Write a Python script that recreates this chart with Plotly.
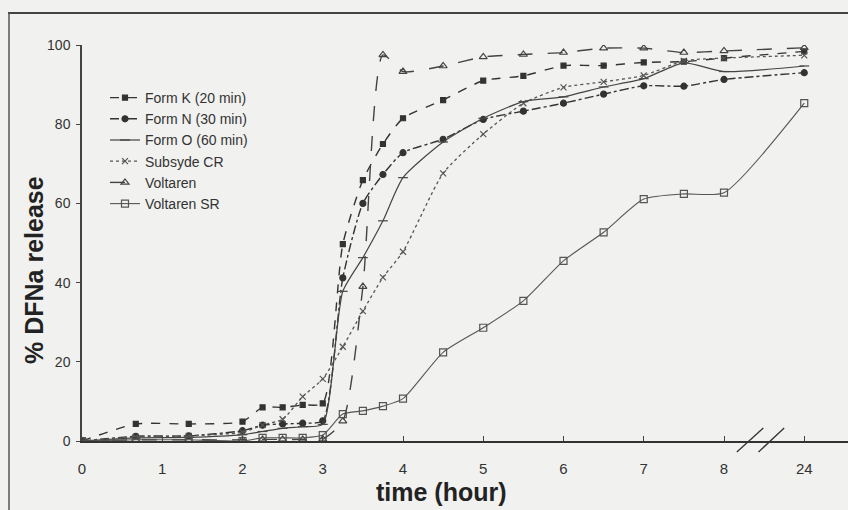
import plotly.graph_objects as go

# ---- data ----
time_h = [0, 0.67, 1.33, 2, 2.25, 2.5, 2.75, 3, 3.25, 3.5, 3.75, 4, 4.5, 5, 5.5, 6, 6.5, 7, 7.5, 8, 24]

form_k = [0, 4.3, 4.3, 4.9, 8.5, 8.5, 9.1, 9.5, 49.7, 65.9, 75.0, 81.5, 86.1, 91.0, 92.2, 94.8, 94.8, 95.6, 95.8, 96.7, 98.4]
form_n = [0, 1.2, 1.3, 2.6, 4.0, 4.3, 4.5, 5.1, 41.2, 60.0, 67.3, 72.8, 76.2, 81.2, 83.3, 85.3, 87.6, 89.7, 89.6, 91.3, 93.0]
form_o = [0, 0.8, 0.9, 1.6, 2.4, 3.2, 3.6, 4.2, 37.8, 46.3, 55.6, 66.5, 75.5, 81.5, 85.7, 86.9, 89.4, 91.5, 95.5, 93.3, 94.7]
subsyde = [0, 1.0, 1.3, 2.2, 4.0, 5.5, 11.2, 15.7, 23.8, 32.8, 41.3, 47.8, 67.6, 77.5, 85.3, 89.3, 90.7, 92.3, 96.0, 96.7, 97.4]
voltaren = [0, 0.3, 0.3, 0.3, 0.4, 0.4, 0.4, 0.5, 5.0, 39.0, 97.5, 93.3, 94.7, 97.0, 97.6, 98.1, 99.2, 99.2, 98.1, 98.5, 99.3]
voltaren_sr = [0, 0.3, 0.3, 0, 0.8, 0.8, 0.8, 1.5, 6.8, 7.6, 8.8, 10.7, 22.4, 28.6, 35.4, 45.5, 52.7, 61.1, 62.4, 62.7, 85.3]

tick_hours = [0, 1, 2, 3, 4, 5, 6, 7, 8, 24]
tick_labels = ["0", "1", "2", "3", "4", "5", "6", "7", "8", "24"]
y_ticks = [0, 20, 40, 60, 80, 100]

series_names = ["Form K (20 min)", "Form N (30 min)", "Form O (60 min)", "Subsyde CR", "Voltaren", "Voltaren SR"]
series_values = [form_k, form_n, form_o, subsyde, voltaren, voltaren_sr]

# broken axis: 24 h is drawn just after 8 h
BREAK_POS = 9.0
def xpos(t):
    return t if t <= 8 else BREAK_POS

x_positions = [xpos(t) for t in time_h]

styles = [
    dict(dash="dash", symbol="square", size=5, color="#333333", width=1.4),
    dict(dash="dashdot", symbol="circle", size=6, color="#333333", width=1.4),
    dict(dash="solid", symbol="line-ew", size=7, color="#444444", width=1.2),
    dict(dash="dot", symbol="x-thin", size=6, color="#555555", width=1.3),
    dict(dash="longdash", symbol="triangle-up-open", size=7, color="#444444", width=1.4),
    dict(dash="solid", symbol="square-open", size=7, color="#555555", width=1.1),
]

fig = go.Figure()
for name, vals, st in zip(series_names, series_values, styles):
    fig.add_trace(go.Scatter(
        x=x_positions, y=vals, name=name, mode="lines+markers",
        line=dict(color=st["color"], width=st["width"], dash=st["dash"], shape="spline", smoothing=0.6),
        marker=dict(symbol=st["symbol"], size=st["size"], color=st["color"],
                    line=dict(color=st["color"], width=1.2)),
    ))

W, H = 848, 510
L, R, T, B = 82, 0, 45, 69
pw, ph = W - L - R, H - T - B

def px_x(p):
    return (p - L) / pw

def px_y(p):
    return (H - B - p) / ph

bg = "#f1f1ef"
fig.update_layout(
    width=W, height=H,
    margin=dict(l=L, r=R, t=T, b=B),
    paper_bgcolor=bg, plot_bgcolor=bg,
    font=dict(family="Arial, Liberation Sans, sans-serif", color="#333333"),
    showlegend=True,
    legend=dict(x=px_x(105), y=px_y(82), xanchor="left", yanchor="top",
                bgcolor="rgba(0,0,0,0)", font=dict(size=14, color="#333333"),
                tracegroupgap=0, itemwidth=30),
    xaxis=dict(
        range=[0, (W - L) / 80.25],
        tickmode="array", tickvals=[xpos(t) for t in tick_hours], ticktext=tick_labels,
        ticks="inside", ticklen=5, tickcolor="#444444",
        tickfont=dict(size=15, color="#333333"), ticklabelstandoff=13,
        showline=True, linecolor="#333333", linewidth=2,
        showgrid=False, zeroline=False,
    ),
    yaxis=dict(
        range=[0, 100],
        tickmode="array", tickvals=y_ticks,
        ticks="outside", ticklen=4, tickcolor="#444444",
        tickfont=dict(size=14, color="#333333"), ticklabelstandoff=3,
        showline=True, linecolor="#444444", linewidth=1.5,
        showgrid=False, zeroline=False,
    ),
    annotations=[
        dict(text="<b>time (hour)</b>", xref="paper", yref="paper",
             x=px_x(441), y=px_y(492), xanchor="center", yanchor="middle", showarrow=False,
             font=dict(size=25, color="#222222")),
        dict(text="<b>% DFNa release</b>", xref="paper", yref="paper",
             x=px_x(34), y=px_y(270), xanchor="center", yanchor="middle", showarrow=False,
             textangle=-90, font=dict(size=25, color="#222222")),
    ],
    shapes=[
        # scanned frame border
        dict(type="line", xref="paper", yref="paper", x0=px_x(8), x1=1.0, y0=px_y(13), y1=px_y(13),
             line=dict(color="#444444", width=2)),
        dict(type="line", xref="paper", yref="paper", x0=px_x(9), x1=px_x(9), y0=px_y(13), y1=px_y(510),
             line=dict(color="#555555", width=1.5)),
        # axis break marks
        dict(type="line", xref="x", yref="paper", x0=8.16, x1=8.49, y0=px_y(452), y1=px_y(428),
             line=dict(color="#333333", width=1.3)),
        dict(type="line", xref="x", yref="paper", x0=8.43, x1=8.75, y0=px_y(452), y1=px_y(428),
             line=dict(color="#333333", width=1.3)),
    ],
)

fig.write_html("out.html")
